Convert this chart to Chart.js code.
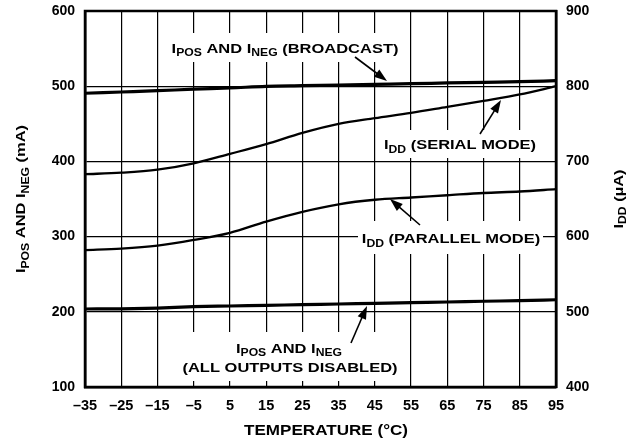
<!DOCTYPE html>
<html>
<head>
<meta charset="utf-8">
<script src="https://cdn.jsdelivr.net/npm/chart.js@4.4.1/dist/chart.umd.min.js"></script>
<style>
  body { margin: 0; background: #fff; }
  canvas { display: block; }
</style>
</head>
<body>
<canvas id="chart" width="644" height="444"></canvas>
<script>
// Temperature ticks (°C), shown with an en dash for negatives
const temps = ['–35', '–25', '–15', '–5', '5', '15', '25', '35', '45', '55', '65', '75', '85', '95'];

// Left axis, mA
const broadcast = [490.6, 492.3, 494, 496, 497.6, 499.8, 500.7, 501.6, 502.5, 503.3, 504.3, 505.2, 506, 507.3];
const allDisabled = [203.7, 204, 205, 206.8, 207.7, 208.6, 209.5, 210.4, 211.3, 212.2, 213, 214, 214.8, 216];

// Right axis, µA
const serialMode = [683, 685, 689, 697.5, 710, 723, 738, 750, 757.5, 764.5, 772.5, 780.5, 789, 800];
const parallelMode = [582, 584, 588, 595.5, 605, 620, 633, 643, 649, 652, 655, 658, 660, 663];

const leftRange = [100, 600];
const rightRange = [400, 900];

const FONT = '"Liberation Sans", Arial, Helvetica, sans-serif';
const WIDEN = 1.22; // the original lettering is wider than Arial

// draws text made of [string, isSubscript] parts, stretched along the text
function richText(ctx, parts, x, y, align, size) {
  size = size || 13.5;
  const fontOf = p => p[1] ? `bold ${size * 0.74}px ${FONT}` : `bold ${size}px ${FONT}`;
  let total = 0;
  parts.forEach(p => { ctx.font = fontOf(p); total += ctx.measureText(p[0]).width; });
  ctx.save();
  ctx.translate(x, y);
  ctx.scale(WIDEN, 1);
  let cx = align === 'center' ? -total / 2 : 0;
  ctx.textAlign = 'left';
  ctx.textBaseline = 'alphabetic';
  parts.forEach(p => {
    ctx.font = fontOf(p);
    ctx.fillText(p[0], cx, p[1] ? 3.8 : 0);
    cx += ctx.measureText(p[0]).width;
  });
  ctx.restore();
}

function arrow(ctx, x1, y1, x2, y2) {
  const a = Math.atan2(y2 - y1, x2 - x1);
  const len = 13, hw = 4.5;
  ctx.beginPath();
  ctx.moveTo(x1, y1);
  ctx.lineTo(x2 - Math.cos(a) * len * 0.8, y2 - Math.sin(a) * len * 0.8);
  ctx.lineWidth = 1.6;
  ctx.stroke();
  ctx.beginPath();
  ctx.moveTo(x2, y2);
  ctx.lineTo(x2 - Math.cos(a) * len - Math.sin(a) * hw, y2 - Math.sin(a) * len + Math.cos(a) * hw);
  ctx.lineTo(x2 - Math.cos(a) * len + Math.sin(a) * hw, y2 - Math.sin(a) * len - Math.cos(a) * hw);
  ctx.closePath();
  ctx.fill();
}

const labelsPlugin = {
  id: 'labels',
  beforeDatasetsDraw(chart) {
    const ctx = chart.ctx;
    ctx.save();
    ctx.fillStyle = '#fff';
    // white boxes behind the annotations (break the grid)
    ctx.fillRect(168, 33, 234, 29);
    ctx.fillRect(382, 130, 158, 28);
    ctx.fillRect(358, 221, 185, 33);
    ctx.fillRect(183, 332, 215, 49);
    ctx.restore();
  },
  afterDatasetsDraw(chart) {
    const ctx = chart.ctx;
    const a = chart.chartArea;
    ctx.save();
    ctx.strokeStyle = '#000';
    ctx.fillStyle = '#000';
    ctx.lineWidth = 2.5;
    ctx.strokeRect(a.left, a.top, a.right - a.left, a.bottom - a.top);

    richText(ctx, [['I'], ['POS', 1], [' AND I'], ['NEG', 1], [' (BROADCAST)']], 285, 52.5, 'center');
    richText(ctx, [['I'], ['DD', 1], [' (SERIAL MODE)']], 460, 149, 'center');
    richText(ctx, [['I'], ['DD', 1], [' (PARALLEL MODE)']], 451, 243, 'center');
    richText(ctx, [['I'], ['POS', 1], [' AND I'], ['NEG', 1]], 289, 352.5, 'center');
    richText(ctx, [['(ALL OUTPUTS DISABLED)']], 290, 371.5, 'center');

    arrow(ctx, 355, 57, 387, 81);
    arrow(ctx, 480, 134, 501, 100);
    arrow(ctx, 420, 225, 390, 199);
    arrow(ctx, 351, 343, 367, 306);

    // axis titles
    ctx.save();
    ctx.translate(25, 199);
    ctx.rotate(-Math.PI / 2);
    richText(ctx, [['I'], ['POS', 1], [' AND I'], ['NEG', 1], [' (mA)']], 0, 0, 'center');
    ctx.restore();

    ctx.save();
    ctx.translate(622.5, 199);
    ctx.rotate(-Math.PI / 2);
    richText(ctx, [['I'], ['DD', 1], [' (µA)']], 0, 0, 'center');
    ctx.restore();

    richText(ctx, [['TEMPERATURE (°C)']], 326, 435, 'center', 14);
    ctx.restore();
  }
};

const yTickFont = { family: FONT, size: 14, weight: 'bold' };
const xTickFont = { family: FONT, size: 14.5, weight: 'bold' };

// fixed axis sizes so the plot box lands where the original one is
function fixY(width) {
  return s => { s.width = width; s.paddingTop = 0; s.paddingBottom = 0; };
}

const ctx = document.getElementById('chart').getContext('2d');
new Chart(ctx, {
  type: 'line',
  data: {
    labels: temps,
    datasets: [
      { data: broadcast, yAxisID: 'y', borderWidth: 3.2 },
      { data: allDisabled, yAxisID: 'y', borderWidth: 3.2 },
      { data: serialMode, yAxisID: 'y2', borderWidth: 2.3 },
      { data: parallelMode, yAxisID: 'y2', borderWidth: 2.3 }
    ].map(d => Object.assign(d, {
      borderColor: '#000',
      pointRadius: 0,
      cubicInterpolationMode: 'monotone',
      fill: false
    }))
  },
  options: {
    responsive: false,
    animation: false,
    layout: { padding: { top: 11, left: 0, right: 0, bottom: 0 } },
    plugins: { legend: { display: false }, tooltip: { enabled: false } },
    scales: {
      x: {
        type: 'category',
        offset: false,
        grid: { color: '#000', lineWidth: 1.2, drawTicks: false },
        border: { color: '#000', width: 2.5 },
        ticks: { color: '#000', font: xTickFont, padding: 10, maxRotation: 0, autoSkip: false },
        afterFit(s) { s.height = 57; s.paddingLeft = 0; s.paddingRight = 0; }
      },
      y: {
        position: 'left',
        min: leftRange[0], max: leftRange[1],
        grid: { color: '#000', lineWidth: 1.2, drawTicks: false },
        border: { color: '#000', width: 2.5 },
        ticks: { color: '#000', font: yTickFont, stepSize: 100, padding: 10 },
        afterFit: fixY(85)
      },
      y2: {
        position: 'right',
        min: rightRange[0], max: rightRange[1],
        grid: { display: false, drawTicks: false },
        border: { color: '#000', width: 2.5 },
        ticks: { color: '#000', font: yTickFont, stepSize: 100, padding: 10 },
        afterFit: fixY(88)
      }
    }
  },
  plugins: [labelsPlugin]
});
</script>
</body>
</html>
